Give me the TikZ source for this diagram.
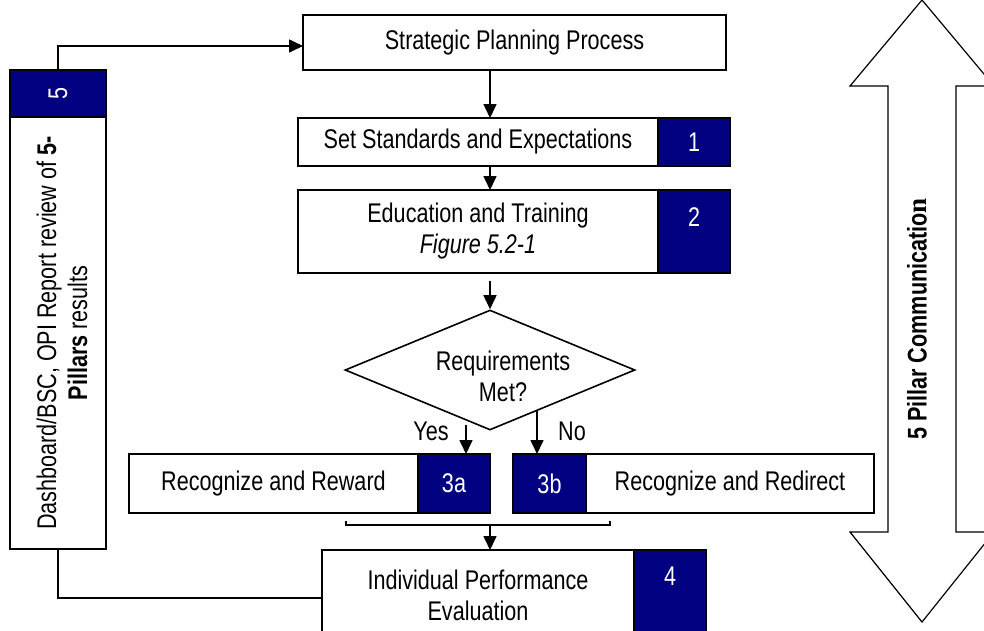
\documentclass[tikz,border=0pt]{standalone}
\usepackage{fontspec}
\setmainfont{Liberation Sans}[FakeStretch=0.8]
\newfontfamily\serifn{Liberation Serif}
\usetikzlibrary{arrows.meta,positioning,shapes.geometric}
\definecolor{navy}{HTML}{000080}
\newcommand{\fs}{\fontsize{27}{31}\selectfont}
\begin{document}
\begin{tikzpicture}[x=1pt,y=-1pt,
    box/.style={draw, line width=1.6pt, fill=white, inner sep=0pt, outer sep=0pt, align=center, font=\fs},
    tag/.style={draw, line width=1.6pt, fill=navy, text=white, inner sep=0pt, outer sep=0pt, font=\fs},
    num/.style={text=white, inner sep=0pt, font=\fs},
    lbl/.style={inner sep=0pt, align=center, font=\fs},
    arr/.style={-{Triangle[width=13pt,length=14pt]}, line width=1.6pt}]
    \useasboundingbox (0,0) rectangle (984,630);
    % main column
    \node[box, minimum width=423pt, minimum height=55pt] (strat) at (514.5,42.5) {Strategic Planning Process};
    \node[box, minimum width=360pt, minimum height=48pt] (std) at (478,142) {Set Standards and Expectations};
    \node[tag, minimum width=72pt, minimum height=48pt, anchor=west] (t1) at (std.east) {1};
    \node[box, minimum width=360pt, minimum height=83pt] (edu) at (478,231.5) {Education and Training\\\textit{Figure 5.2-1}};
    \node[tag, minimum width=72pt, minimum height=83pt, anchor=west] (t2) at (edu.east) {};
    \node[num, below=17pt of t2.north] (n2) {2};
    \node[draw, diamond, line width=1.6pt, inner sep=0pt, minimum width=290pt, minimum height=120pt, aspect=2.4] (req) at (490,370) {};
    \node[lbl] (reqtxt) at (503,376) {Requirements\\Met?};
    \node[lbl] (yes) at (431,431) {Yes};
    \node[lbl] (no) at (572,431) {No};
    \node[box, minimum width=289pt, minimum height=59pt] (rew) at (273.5,483.5) {Recognize and Reward};
    \node[tag, minimum width=72pt, minimum height=59pt, anchor=west] (t3a) at (rew.east) {3a};
    \node[tag, minimum width=73pt, minimum height=59pt] (t3b) at (549.5,483.5) {3b};
    \node[box, minimum width=288pt, minimum height=59pt, anchor=west] (red) at (t3b.east) {Recognize and Redirect};
    \node[box, minimum width=312pt, minimum height=90pt] (ind) at (478,595) {Individual Performance\\Evaluation};
    \node[tag, minimum width=72pt, minimum height=90pt, anchor=west] (t4) at (ind.east) {};
    \node[num, below=17pt of t4.north] (n4) {4};
    % review panel on the left
    \node[tag, minimum width=96pt, minimum height=47pt] (t5) at (58,93.5) {};
    \node[num, rotate=90] (n5) at (t5.center) {5};
    \node[box, minimum width=96pt, minimum height=432pt, anchor=north] (dash) at (t5.south) {};
    \node[lbl, rotate=90] (dashtxt) at (62,333) {Dashboard/BSC, OPI Report review of \textbf{5-}\\\textbf{Pillars} results};
    % connectors
    \coordinate (top) at (490,281);
    \coordinate (yesfrom) at (466,425);
    \coordinate (nofrom) at (537,410);
    \coordinate (brl) at (346,525);
    \coordinate (brm) at (490,525);
    \coordinate (brr) at (610,525);
    \draw[arr] (strat.south -| req.north) -- (std.north -| req.north);
    \draw[arr] (std.south -| req.north) -- (edu.north -| req.north);
    \draw[arr] (top) -- (req.north);
    \draw[arr] (yesfrom) -- (yesfrom |- t3a.north);
    \draw[arr] (nofrom) -- (nofrom |- t3b.north);
    \draw[line width=1.6pt] ([yshift=4pt]brl) -- (brl) -- (brr) -- ([yshift=4pt]brr);
    \draw[arr] (brm) -- (brm |- ind.north);
    \draw[arr] (t5.north) |- ([yshift=-3.5pt]strat.west);
    \draw[line width=1.6pt] (dash.south) |- ([yshift=-3pt]ind.west);
    % communication arrow
    \draw[line width=1.2pt, line join=miter] (922,0) -- (994,86) -- (956,86) -- (956,532) -- (994,532) -- (922,622)
        -- (850,532) -- (888,532) -- (888,86) -- (850,86) -- cycle;
    \node[lbl, rotate=90] (comm) at (917,319) {\textbf{5 Pillar Communicatio}{\serifn\bfseries n}};
\end{tikzpicture}
\end{document}
